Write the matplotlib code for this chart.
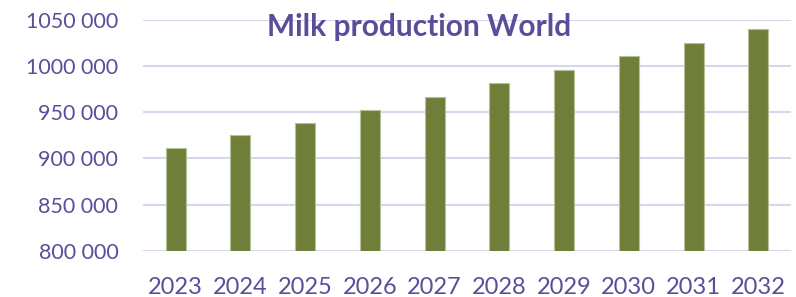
import numpy as np
import matplotlib.pyplot as plt
from matplotlib.ticker import FuncFormatter

# Datos
years = ["2023", "2024", "2025", "2026", "2027", "2028", "2029", "2030", "2031", "2032"]
production = [910900, 925400, 938500, 952600, 967000, 982000, 996000, 1010500, 1025400, 1039900]

purple = "#5A4E9A"
bar_green = "#6F7F3A"

plt.rcParams["font.family"] = ["Lato", "DejaVu Sans"]


def formato_miles(v, pos):
    # "1050 000": solo separa los tres ultimos digitos
    s = str(int(v))
    return s[:-3] + " " + s[-3:]


fig = plt.figure(figsize=(7.96, 2.97), dpi=100)
ax = fig.add_axes([0.18, 0.156, 0.8133, 0.7767])

x = np.arange(len(years))
ax.bar(x, production, width=0.31, color=bar_green, edgecolor="#B5C197", linewidth=0.8, zorder=3)

ax.set_xlim(-0.5, len(years) - 0.5)
ax.set_ylim(800000, 1050000)
ax.set_yticks(np.arange(800000, 1050001, 50000))
ax.yaxis.set_major_formatter(FuncFormatter(formato_miles))
ax.set_xticks(x)
ax.set_xticklabels(years)

ax.grid(axis="y", color="#D9D5EA", linewidth=1.5, zorder=0)
for s in ax.spines.values():
    s.set_visible(False)
ax.tick_params(length=0, labelsize=17, labelcolor=purple)
ax.tick_params(axis="y", labelsize=15.5, pad=18)
ax.tick_params(axis="x", pad=19)

fig.text(0.526, 0.91, "Milk production World", ha="center", va="center",
         fontsize=21.5, fontweight="bold", color=purple)

fig.savefig("out.png", dpi=100)
